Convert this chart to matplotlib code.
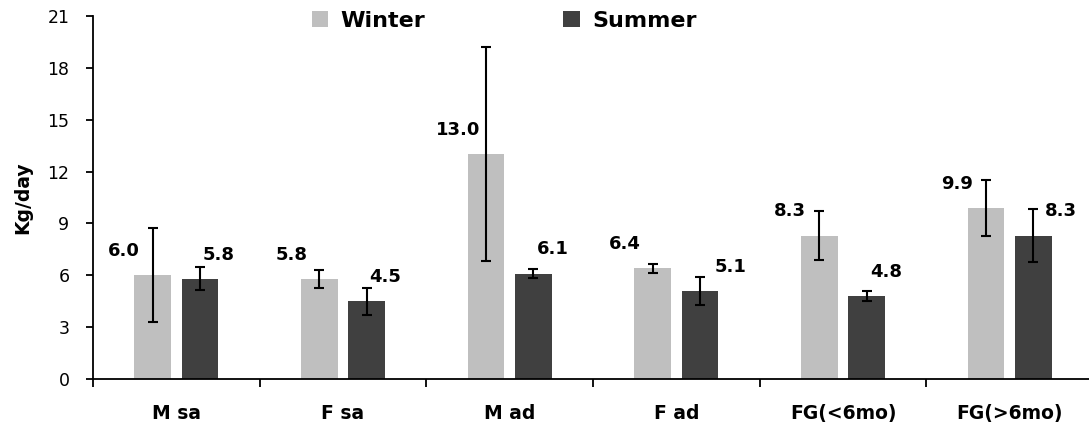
import matplotlib
matplotlib.use("Agg")
import matplotlib.pyplot as plt
import numpy as np

categories = ["M sa", "F sa", "M ad", "F ad", "FG(<6mo)", "FG(>6mo)"]
winter = [6.0, 5.8, 13.0, 6.4, 8.3, 9.9]
summer = [5.8, 4.5, 6.1, 5.1, 4.8, 8.3]
winter_err = [2.72, 0.53, 6.19, 0.25, 1.41, 1.60]
summer_err = [0.67, 0.78, 0.25, 0.82, 0.28, 1.55]
winter_labels = ["6.0", "5.8", "13.0", "6.4", "8.3", "9.9"]
summer_labels = ["5.8", "4.5", "6.1", "5.1", "4.8", "8.3"]

# label x offsets (pixels), layout only
w_dx = [-29, -28, -28, -28, -29, -29]
s_dx = [19, 18, 19, 31, 20, 28]

plt.rcParams['font.family'] = ['DejaVu Sans']

fig = plt.figure(figsize=(10.89, 4.29), dpi=100)
ax = fig.add_axes([93/1089, 50/429, 1000/1089, 363/429])

x = np.arange(len(categories))
bw = 0.22
off = 0.142
ekw = dict(ecolor='black', elinewidth=1.5, capsize=3.6, capthick=1.5)
ax.bar(x - off, winter, bw, color='#BFBFBF', label='Winter', yerr=winter_err, error_kw=ekw, zorder=2)
ax.bar(x + off, summer, bw, color='#404040', label='Summer', yerr=summer_err, error_kw=ekw, zorder=2)

for i in range(len(categories)):
    ax.annotate(winter_labels[i], (x[i] - off, winter[i] + 1.4), xytext=(w_dx[i]*0.72, 0),
                textcoords='offset points', ha='center', va='center',
                fontsize=13, fontweight='bold')
    ax.annotate(summer_labels[i], (x[i] + off, summer[i] + 1.4), xytext=(s_dx[i]*0.72, 0),
                textcoords='offset points', ha='center', va='center',
                fontsize=13, fontweight='bold')

ax.set_xlim(-0.5, len(categories) - 0.5)
ax.set_ylim(0, 21)
ax.set_yticks(np.arange(0, 22, 3))
ax.set_xticks(x)
ax.set_xticklabels(categories, fontsize=13.5, fontweight='bold')
ax.set_xticks(np.arange(-0.5, len(categories), 1), minor=True)
ax.tick_params(axis='x', which='major', length=0, pad=18)
ax.tick_params(axis='x', which='minor', length=6, width=1.3, direction='out')
ax.tick_params(axis='y', which='major', length=5, width=1.3, direction='out', labelsize=12.5, pad=12)

for s in ['top', 'right']:
    ax.spines[s].set_visible(False)
for s in ['left', 'bottom']:
    ax.spines[s].set_linewidth(1.3)

ax.set_ylabel('Kg/day', fontsize=13.5, fontweight='bold', labelpad=11)

fig.legend(loc='center', bbox_to_anchor=(504/1089, 1 - 21/429), ncol=2, frameon=False,
           prop={'size': 16, 'weight': 'bold'}, handlelength=0.75, handleheight=0.75,
           handletextpad=0.55, columnspacing=6.2, borderpad=0)

fig.savefig('out.png', dpi=100)
